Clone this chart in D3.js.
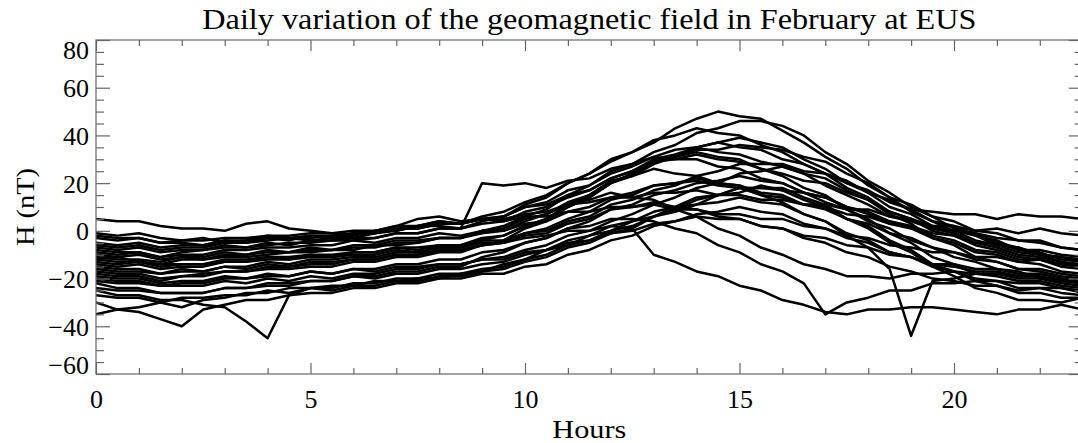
<!DOCTYPE html>
<html><head><meta charset="utf-8">
<script src="https://cdn.jsdelivr.net/npm/d3@7"></script>
<style>
html,body{margin:0;padding:0;background:#fff;}
text{font-family:"Liberation Serif","Times New Roman",serif;fill:#000;}
</style></head>
<body><svg id="chart" width="1078" height="443"></svg>
<script>
// ---- data ----
const titleText = "Daily variation of the geomagnetic field in February at EUS";
const xLabel = "Hours";
const yLabel = "H (nT)";
const xMajorTicks = [0, 5, 10, 15, 20];
const xMinorTicks = [1,2,3,4,6,7,8,9,11,12,13,14,16,17,18,19,21,22];
const yMajorTicks = [-60, -40, -20, 0, 20, 40, 60, 80];
const yMinorTicks = [-55,-50,-45,-35,-30,-25,-15,-10,-5,5,10,15,25,30,35,45,50,55,65,70,75];
// sample hours: 0, 0.5, ..., 23
const hours = [0,0.5,1,1.5,2,2.5,3,3.5,4,4.5,5,5.5,6,6.5,7,7.5,8,8.5,9,9.5,10,10.5,11,11.5,12,12.5,13,13.5,14,14.5,15,15.5,16,16.5,17,17.5,18,18.5,19,19.5,20,20.5,21,21.5,22,22.5,23];

const day01 = [5,4,4,2,1,1,0,3,4, 1,0,-1,-2,0,2,5,6, 4,5,6,10,11,15,17,22, 25,30,32,35,33,32,29,27, 24,19,15,11,6,4,1,0, -1,-3,-4,-5,-7,-8];
const day02 = [-1,-2,-1,-3,-4,-3,-5,-4,-2, -3,-4,-3,-3,-1,0,2,4, 3,5,6,10,12,17,19,24, 27,31,34,35,37,35,34,30, 28,24,21,16,13,9,8,7, 7,5,7,6,6,5];
const day03 = [-8,-9,-9,-11,-9,-8,-7,-7,-6, -5,-5,-4,-4,-3,-1,-1,1, 1,4,6,11,14,20,24,29, 33,37,43,47,50,48,47,42, 37,31,26,19,14,8,4,0, -2,-6,-7,-10,-11,-13];
const day04 = [-12,-11,-13,-14,-12,-12,-11,-11,-10, -9,-9,-8,-8,-6,-6,-5,-3, -3,0,2,6,9,15,19,25, 28,33,36,41,43,46,46,44, 40,33,28,21,16,10,6,1, -1,-5,-7,-10,-11,-12];
const day05 = [-6,-7,-6,-8,-7,-7,-5,-5,-4, -3,-3,-2,-2,0,0,2,2, 1,20,19,20,18,21,22,26, 28,31,30,32,30,29,26,24, 21,20,16,13,8,5,1,-1, -5,-7,-10,-11,-13,-14];
const day06 = [-15,-16,-16,-18,-17,-17,-15,-16,-14, -15,-13,-13,-12,-12,-10,-10,-8, -8,-6,-5,-3,-2,0,0,2, 1,-10,-13,-17,-19,-23,-25,-29, -31,-34,-35,-33,-33,-32,-32,-33, -34,-35,-33,-33,-31,-33];
const day07 = [-20,-21,-21,-23,-22,-22,-20,-20,-19, -19,-17,-18,-16,-16,-14,-14,-12, -12,-9,-8,-5,-3,1,2,5, 5,4,1,-1,-6,-9,-14,-17, -22,-35,-30,-28,-25,-25,-22,-22, -21,-21,-22,-22,-24,-25];
const day08 = [-18,-19,-19,-21,-19,-18,-17,-17,-15, -15,-14,-14,-12,-12,-10,-10,-8, -8,-6,-5,-1,1,5,8,13, 15,19,20,22,20,19,15,12, 7,4,-2,-7,-16,-44,-21,-20, -18,-18,-19,-19,-21,-22];
const day09 = [-25,-27,-27,-29,-29,-31,-32,-38,-45, -27,-24,-24,-22,-22,-20,-20,-18, -18,-16,-15,-12,-10,-6,-4,0, 2,6,8,11,12,14,12,11, 7,4,-1,-4,-9,-11,-14,-15, -17,-17,-19,-19,-21,-22];
const day10 = [-30,-33,-34,-37,-40,-33,-31,-29,-29, -27,-26,-26,-24,-24,-22,-22,-20, -20,-18,-18,-15,-14,-10,-8,-4, -2,2,4,7,8,10,8,7, 3,1,-3,-5,-9,-11,-15,-17, -20,-21,-24,-24,-26,-27];
const day11 = [-35,-33,-32,-30,-32,-29,-28,-26,-26, -24,-24,-23,-23,-21,-21,-20,-20, -18,-17,-14,-12,-8,-6,-2,0, 4,6,10,11,15,16,19,17, 16,12,9,4,1,-4,-7,-11, -13,-16,-17,-20,-20,-22];
const day12 = [-22,-24,-24,-26,-26,-26,-24,-24,-23, -23,-21,-21,-19,-20,-18,-18,-16, -16,-14,-13,-10,-8,-4,-2,2, 4,8,10,14,15,18,18,18, 14,11,5,1,-5,-9,-15,-19, -24,-26,-29,-29,-30,-28];
const day13 = [-10,-11,-10,-12,-11,-11,-9,-10,-8, -9,-7,-8,-6,-6,-4,-4,-3, -3,-1,0,4,7,12,15,20, 23,28,31,35,37,39,37,35, 30,26,20,16,10,7,2,0, -4,-6,-9,-10,-13,-15];
const day14 = [-14,-15,-14,-16,-15,-15,-13,-13,-11, -12,-10,-11,-9,-9,-7,-7,-6, -6,-3,-2,2,5,10,14,20, 24,29,30,30,27,26,22,20, 16,14,10,7,3,1,-3,-5, -9,-10,-13,-14,-17,-18];
const day15 = [-16,-17,-17,-18,-16,-17,-15,-15,-13, -14,-12,-12,-11,-11,-9,-9,-7, -7,-4,-2,2,5,11,15,21, 23,26,24,23,20,19,16,15, 11,9,5,3,-1,-3,-7,-9, -12,-13,-16,-16,-18,-19];
const day16 = [-9,-10,-9,-11,-10,-10,-8,-8,-7, -7,-6,-6,-4,-5,-3,-3,-1, -2,0,0,3,4,8,10,14, 16,19,20,21,19,18,15,14, 11,10,7,6,3,2,-1,-2, -5,-5,-8,-8,-10,-11];
const day17 = [-3,-4,-3,-5,-5,-6,-4,-5,-3, -4,-2,-3,-1,-1,1,1,3, 3,5,5,7,8,11,12,14, 14,16,16,17,15,15,13,13, 11,11,9,9,6,5,2,2, 0,1,-1,1,-1,-2];
const day18 = [-19,-20,-20,-22,-21,-21,-19,-20,-18, -19,-17,-18,-16,-17,-15,-15,-14, -14,-12,-12,-9,-8,-5,-4,-1, 0,3,4,6,5,5,2,1, -2,-3,-6,-7,-10,-11,-14,-14, -16,-16,-18,-18,-20,-21];
const day19 = [-12,-13,-13,-14,-14,-14,-12,-12,-11, -11,-10,-10,-9,-9,-7,-8,-6, -6,-4,-4,-1,0,4,6,11, 13,17,19,23,25,28,28,28, 25,24,20,17,12,9,4,2, -2,-4,-8,-9,-12,-13];
const day20 = [-7,-8,-7,-9,-8,-8,-6,-7,-5, -6,-4,-4,-3,-3,-1,-1,1, 1,3,4,8,10,14,17,22, 25,29,31,34,34,36,35,34, 31,29,24,20,14,11,6,4, 0,-1,-4,-4,-7,-8];
const day21 = [-24,-25,-25,-26,-26,-26,-24,-24,-22, -22,-21,-21,-19,-19,-17,-17,-15, -15,-11,-9,-5,-3,1,4,9, 10,12,10,9,6,5,2,1, -3,-5,-9,-11,-15,-17,-20,-21, -23,-23,-25,-24,-24,-26];
const day22 = [-11,-12,-12,-13,-11,-12,-10,-10,-9, -9,-8,-8,-7,-7,-5,-5,-3, -3,0,1,5,7,11,13,16, 14,13,9,6,1,-2,-7,-10, -14,-16,-19,-19,-20,-18,-18,-17, -18,-18,-20,-20,-22,-23];
const day23 = [-5,-6,-5,-7,-6,-6,-4,-4,-3, -3,-2,-2,-1,-1,1,1,3, 3,6,8,12,15,20,24,30, 33,38,40,43,41,40,36,33, 28,24,18,14,8,5,0,-2, -6,-8,-11,-12,-15,-16];
const day24 = [-17,-18,-18,-20,-19,-19,-17,-17,-16, -16,-15,-15,-13,-13,-11,-11,-9, -9,-6,-4,1,4,10,14,20, 24,29,31,33,31,30,26,23, 18,15,9,5,-1,-5,-11,-14, -18,-19,-21,-21,-23,-24];
const day25 = [-13,-14,-13,-15,-14,-14,-13,-13,-12, -12,-11,-11,-10,-10,-8,-9,-7, -7,-5,-5,-2,-1,3,5,9, 11,15,17,20,21,23,21,20, 16,14,10,8,4,2,-2,-4, -8,-9,-12,-12,-14,-15];
const day26 = [-2,-3,-3,-5,-4,-4,-3,-3,-2, -2,-1,-1,0,0,2,2,4, 3,5,4,6,6,8,8,10, 10,11,9,9,7,7,5,5, 2,1,-2,-3,-6,-7,-9,-9, -11,-11,-13,-12,-14,-15];
const day27 = [-21,-22,-22,-23,-23,-23,-21,-22,-20, -21,-19,-20,-18,-18,-16,-16,-14, -14,-12,-11,-8,-6,-2,0,4, 7,11,14,18,20,24,25,27, 24,22,17,13,7,3,-3,-6, -11,-13,-16,-17,-19,-20];
const day28 = [-27,-28,-28,-30,-28,-28,-27,-27,-25, -26,-24,-25,-23,-23,-21,-21,-19, -19,-17,-16,-13,-11,-7,-5,-1, 1,6,9,13,15,18,18,17, 13,10,5,2,-4,-8,-14,-17, -21,-23,-26,-26,-28,-28];

const days = [day01,day02,day03,day04,day05,day06,day07,day08,day09,day10,day11,day12,day13,day14,
              day15,day16,day17,day18,day19,day20,day21,day22,day23,day24,day25,day26,day27,day28];

// ---- layout ----
const svg = d3.select("#chart");
const pLeft = 96, pRight = 1082.7, pTop = 40, pBottom = 374;
const x = d3.scaleLinear().domain([0, 23]).range([pLeft, pRight]);
const y = d3.scaleLinear().domain([-60, 80]).range([pBottom, pTop]);
const axisColor = "#666";
const serif = '"Liberation Serif","Times New Roman",serif';

svg.append("defs").append("clipPath").attr("id","plotclip")
  .append("rect").attr("x", pLeft).attr("y", pTop).attr("width", pRight-pLeft).attr("height", pBottom-pTop);

// lines
const line = d3.line().x((d,i)=>x(hours[i])).y(d=>y(d));
svg.append("g").attr("clip-path","url(#plotclip)")
  .selectAll("path").data(days).join("path")
  .attr("d", line).attr("fill","none").attr("stroke","#000")
  .attr("stroke-width", 2.5).attr("stroke-linejoin","round").attr("stroke-linecap","round");

// frame
svg.append("rect").attr("x", pLeft).attr("y", pTop).attr("width", pRight-pLeft).attr("height", pBottom-pTop)
  .attr("fill","none").attr("stroke", axisColor).attr("stroke-width", 1.2);

function styleAxis(g){
  g.attr("font-family", serif).attr("font-size", 26);
  g.select(".domain").remove();
  g.selectAll(".tick line").attr("stroke", axisColor).attr("stroke-width", 1.2);
  g.selectAll("text").attr("fill","#000").style("font-family", serif).style("font-size","26px");
}

// bottom axis
svg.append("g").attr("transform",`translate(0,${pBottom})`)
  .call(d3.axisBottom(x).tickValues(xMajorTicks).tickFormat(d3.format("d")).tickSizeInner(-11).tickSizeOuter(0).tickPadding(16))
  .call(styleAxis);
svg.append("g").attr("transform",`translate(0,${pBottom})`)
  .call(d3.axisBottom(x).tickValues(xMinorTicks).tickFormat("").tickSizeInner(-6).tickSizeOuter(0))
  .call(styleAxis);
// top axis
svg.append("g").attr("transform",`translate(0,${pTop})`)
  .call(d3.axisTop(x).tickValues(xMajorTicks).tickFormat("").tickSizeInner(-11).tickSizeOuter(0))
  .call(styleAxis);
svg.append("g").attr("transform",`translate(0,${pTop})`)
  .call(d3.axisTop(x).tickValues(xMinorTicks).tickFormat("").tickSizeInner(-6).tickSizeOuter(0))
  .call(styleAxis);
// left axis
const gl = svg.append("g").attr("transform",`translate(${pLeft},0)`)
  .call(d3.axisLeft(y).tickValues(yMajorTicks).tickFormat(d3.format("d")).tickSizeInner(-14).tickSizeOuter(0).tickPadding(7))
  .call(styleAxis);
gl.selectAll(".tick text").attr("dy", d => d === 80 ? "0.72em" : (d === -60 ? "-0.02em" : "0.35em"));
svg.append("g").attr("transform",`translate(${pLeft},0)`)
  .call(d3.axisLeft(y).tickValues(yMinorTicks).tickFormat("").tickSizeInner(-8).tickSizeOuter(0))
  .call(styleAxis);
// right axis
svg.append("g").attr("transform",`translate(${pRight},0)`)
  .call(d3.axisRight(y).tickValues(yMajorTicks).tickFormat("").tickSizeInner(-14).tickSizeOuter(0))
  .call(styleAxis);
svg.append("g").attr("transform",`translate(${pRight},0)`)
  .call(d3.axisRight(y).tickValues(yMinorTicks).tickFormat("").tickSizeInner(-8).tickSizeOuter(0))
  .call(styleAxis);

// title and labels
svg.append("text").attr("x", (pLeft+pRight)/2).attr("y", 29).attr("text-anchor","middle")
  .attr("font-size", 30).attr("textLength", 774).attr("lengthAdjust","spacingAndGlyphs").text(titleText);
svg.append("text").attr("x", (pLeft+pRight)/2).attr("y", 438).attr("text-anchor","middle")
  .attr("font-size", 25).attr("textLength", 74).attr("lengthAdjust","spacingAndGlyphs").text(xLabel);
svg.append("text").attr("transform", `translate(34,${(pTop+pBottom)/2}) rotate(-90)`).attr("text-anchor","middle")
  .attr("font-size", 25).attr("textLength", 78).attr("lengthAdjust","spacingAndGlyphs").text(yLabel);
</script></body></html>
